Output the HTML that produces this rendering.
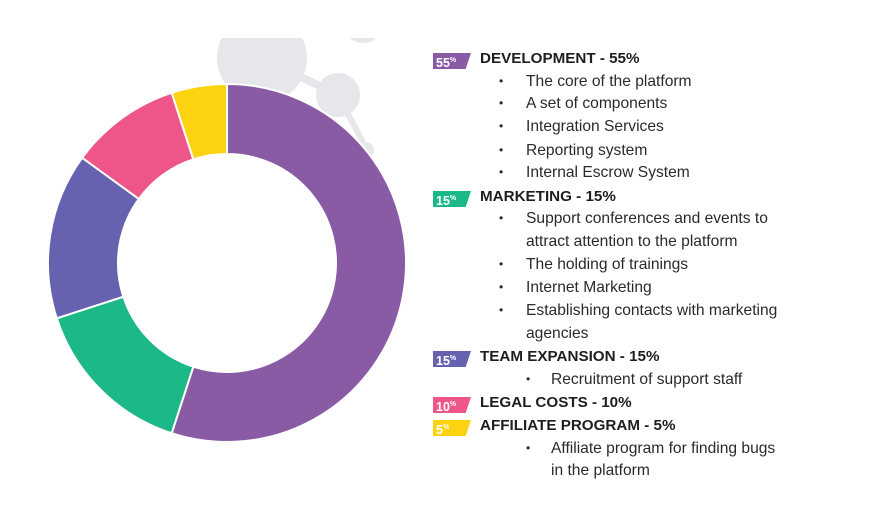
<!DOCTYPE html>
<html><head><meta charset="utf-8"><style>
body{margin:0;width:882px;height:520px;background:#fff;overflow:hidden;position:relative;font-family:"Liberation Sans",sans-serif;color:#2a2a2a}
.t{position:absolute;font-size:15.6px;line-height:18px;white-space:nowrap}
.h{font-weight:bold;left:480px;color:#1e1e1e;font-size:15.2px}
.b{left:526px}.b2{left:551px}
.d{position:absolute;font-size:12px}
.badge{position:absolute;left:433px;width:38px;height:16px;clip-path:polygon(0 0,100% 0,86% 100%,0 100%);color:#fff;font-weight:bold;font-size:12.5px;line-height:15px;padding-left:3px;box-sizing:border-box}
.badge sup{font-size:7px;vertical-align:5px}
</style></head><body>
<svg width="882" height="520" style="position:absolute;left:0;top:0">
<g fill="#e6e7ea" stroke="#e6e7ea">
<circle cx="262" cy="58" r="45" stroke="none"/>
<line x1="262" y1="58" x2="338" y2="95" stroke-width="8"/>
<circle cx="338" cy="95" r="22" stroke="none"/>
<line x1="338" y1="95" x2="366" y2="148" stroke-width="6"/>
<circle cx="366" cy="150" r="8" stroke="none"/>
<rect x="0" y="0" width="882" height="38" fill="#fff" stroke="none"/>
<path d="M350 38 A14 8 0 0 0 376 38 Z" stroke="none"/>
</g>
<g id="slices"></g>
</svg>
<div class="badge" style="top:53px;background:#8a5ba5">55<sup>%</sup></div>
<div class="badge" style="top:191px;background:#1cb887">15<sup>%</sup></div>
<div class="badge" style="top:351px;background:#6762b0">15<sup>%</sup></div>
<div class="badge" style="top:397px;background:#ee5588">10<sup>%</sup></div>
<div class="badge" style="top:420px;background:#fdd20f">5<sup>%</sup></div>
<div id="txt"></div>
<script>
const categories=["Development","Marketing","Team Expansion","Legal Costs","Affiliate Program"];
const values=[55,15,15,10,5];
const colors=["#8a5ba5","#1cb887","#6762b0","#ee5588","#fdd20f"];
const cx=227,cy=263,R=179,r=109;
const g=document.getElementById('slices');
const total=values.reduce((a,b)=>a+b,0);
let a0=0;
function pt(rad,a){return [cx+rad*Math.sin(a),cy-rad*Math.cos(a)];}
values.forEach((v,i)=>{
  const a1=a0+v/total*2*Math.PI;
  const lg=(a1-a0)>Math.PI?1:0;
  const [x1,y1]=pt(R,a0),[x2,y2]=pt(R,a1),[x3,y3]=pt(r,a1),[x4,y4]=pt(r,a0);
  const p=document.createElementNS('http://www.w3.org/2000/svg','path');
  p.setAttribute('d',`M${x1} ${y1} A${R} ${R} 0 ${lg} 1 ${x2} ${y2} L${x3} ${y3} A${r} ${r} 0 ${lg} 0 ${x4} ${y4} Z`);
  p.setAttribute('fill',colors[i]);
  p.setAttribute('stroke','#fff');
  p.setAttribute('stroke-width','2');
  
  
  g.appendChild(p);
  a0=a1;
});
const lines=[
 ["h","DEVELOPMENT - 55%",50],["b","The core of the platform",73],["b","A set of components",95],["b","Integration Services",118],["b","Reporting system",142],["b","Internal Escrow System",164],
 ["h","MARKETING - 15%",188],["b","Support conferences and events to",210],["c","attract attention to the platform",233],["b","The holding of trainings",256],["b","Internet Marketing",279],["b","Establishing contacts with marketing",302],["c","agencies",325],
 ["h","TEAM EXPANSION - 15%",348],["b2","Recruitment of support staff",371],
 ["h","LEGAL COSTS - 10%",394],["h","AFFILIATE PROGRAM - 5%",417],["b2","Affiliate program for finding bugs",440],["c2","in the platform",462]];
const T=document.getElementById('txt');
lines.forEach(([k,s,y])=>{
  const d=document.createElement('div');
  d.className='t '+(k==='h'?'h':(k==='b'||k==='c')?'b':'b2');
  d.style.top=y+'px';d.textContent=s;
  
  
  T.appendChild(d);
  if(k==='b'||k==='b2'){
    const dot=document.createElement('div');
    dot.className='d';dot.textContent='•';
    dot.style.left=(k==='b'?499:526)+'px';dot.style.top=(y+1)+'px';
    
    
    T.appendChild(dot);
  }
});
</script>
</body></html>
